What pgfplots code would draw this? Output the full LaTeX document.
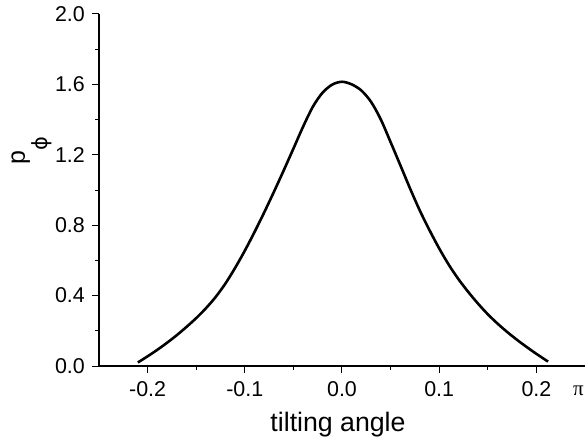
\documentclass[border=0pt]{standalone}
\usepackage{fontspec}
\setmainfont{Liberation Sans}
\newfontfamily\greeksans{DejaVu Sans}
\newfontfamily\greekserif{Liberation Serif}
\usepackage{pgfplots}
\pgfplotsset{compat=1.18}

\begin{document}
\begin{tikzpicture}
\begin{axis}[
  scale only axis,
  width=486bp, height=352bp,
  xmin=-0.25, xmax=0.25,
  ymin=0, ymax=2.0,
  axis x line*=bottom,
  axis y line*=left,
  axis line style={line width=1.1bp},
  tick style={line width=1bp, black},
  tick align=outside,
  major tick length=7bp,
  minor tick length=3.5bp,
  xtick={-0.2,-0.1,0,0.1,0.2},
  ytick={0,0.4,0.8,1.2,1.6,2.0},
  minor x tick num=1,
  minor y tick num=1,
  /pgf/number format/fixed,
  /pgf/number format/fixed zerofill,
  /pgf/number format/precision=1,
  /pgf/number format/assume math mode=true,
  ticklabel style={font=\fontsize{21.5}{24}\selectfont, inner sep=0pt},
  xticklabel style={anchor=north, yshift=-8bp},
  yticklabel style={anchor=east, xshift=-7bp},
  xlabel={tilting angle},
  xlabel style={at={(axis description cs:0.4918,-0.1866)}, anchor=base,
    font=\fontsize{26.8}{30}\selectfont, inner sep=0pt},
  ylabel={p\raisebox{-23bp}{\fontsize{21}{22}\greeksans ϕ}},
  ylabel style={at={(axis description cs:-0.1523,0.571)}, anchor=base west,
    rotate=0, font=\fontsize{25}{30}\selectfont, inner sep=0pt},
  clip=false,
]
\coordinate (O) at (axis cs:-0.25,0);
\addplot[black, line width=2.6bp, smooth] coordinates {
  (-0.210,0.020) (-0.200,0.055) (-0.190,0.092) (-0.180,0.132)
  (-0.170,0.175) (-0.160,0.222) (-0.150,0.272) (-0.140,0.328)
  (-0.130,0.392) (-0.120,0.468) (-0.110,0.557) (-0.100,0.655)
  (-0.090,0.761) (-0.080,0.873) (-0.070,0.990) (-0.060,1.111)
  (-0.050,1.235) (-0.040,1.360) (-0.030,1.473) (-0.020,1.553)
  (-0.010,1.599) (0.000,1.615)
  (0.010,1.600) (0.020,1.565) (0.030,1.500) (0.040,1.400)
  (0.050,1.272) (0.060,1.141) (0.070,1.009) (0.080,0.884)
  (0.090,0.772) (0.100,0.668) (0.110,0.574) (0.120,0.492)
  (0.130,0.420) (0.140,0.354) (0.150,0.294) (0.160,0.241)
  (0.170,0.193) (0.180,0.149) (0.190,0.108) (0.200,0.069)
  (0.212,0.025)
};
\node[anchor=base west, inner sep=0pt, font=\fontsize{21}{24}\greekserif]
  at (axis cs:0.2376,-0.170) {π};
\end{axis}
\pgfresetboundingbox
\path (O) ++(-99bp,-73bp) rectangle ++(585bp,439bp);
\end{tikzpicture}
\end{document}
